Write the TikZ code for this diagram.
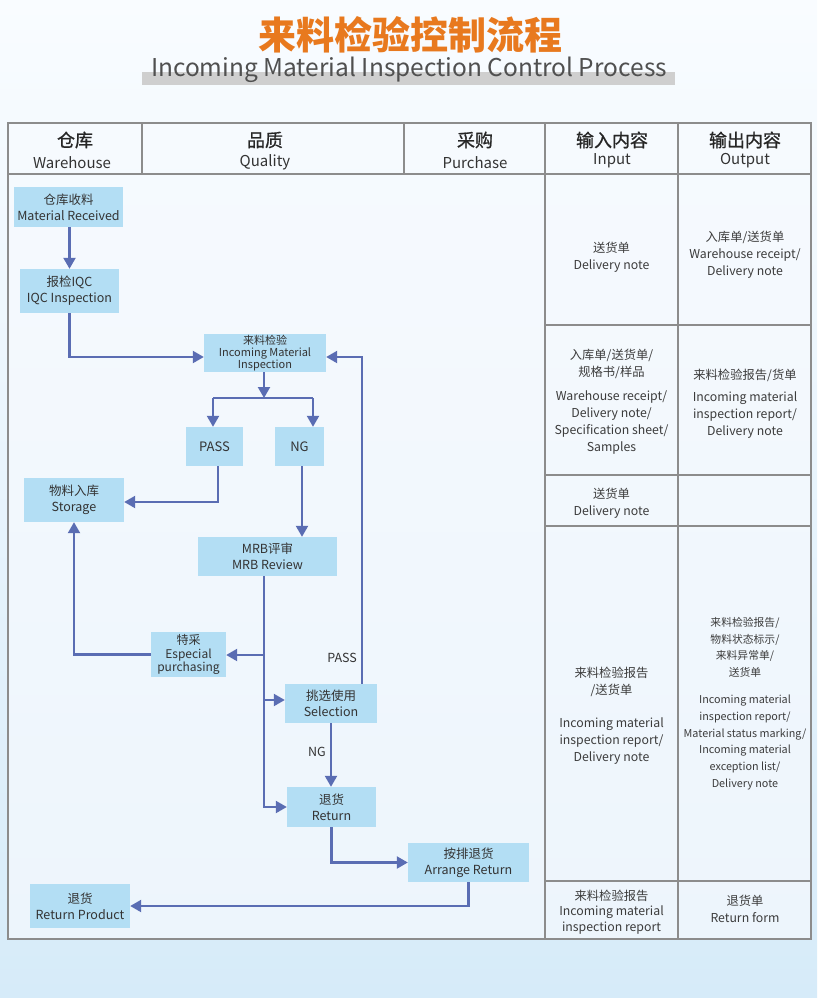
\documentclass[tikz,border=0pt]{standalone}
\usepackage{fontspec}
\setmainfont{Noto Sans CJK SC}
\newfontfamily\hdrfont{Noto Sans CJK SC}[FakeBold=0.9]
\usetikzlibrary{arrows.meta,calc}
\definecolor{boxblue}{HTML}{B3DEF4}
\definecolor{arrowc}{HTML}{5A6DB3}
\definecolor{titleor}{HTML}{E8791E}
\definecolor{subgray}{HTML}{505050}
\definecolor{bargray}{HTML}{CFCFCF}
\definecolor{txt}{HTML}{333333}
\definecolor{celltxt}{HTML}{3C3C3C}
\definecolor{gridc}{HTML}{8C8C8C}
\definecolor{bgtop}{HTML}{F9FCFF}
\definecolor{bgbot}{HTML}{D6EBF9}
\definecolor{tbltop}{HTML}{F6FAFE}
\definecolor{tblbot}{HTML}{EDF5FC}
\begin{document}
\begin{tikzpicture}[x=1pt,y=-1pt,
  fbox/.style={fill=boxblue, draw=none, inner sep=0pt, align=center, text=txt,
    font=\fontsize{12.5}{16}\selectfont},
  arr/.style={draw=arrowc, line width=2.2pt, -{Triangle[length=11pt,width=12pt]}},
  ln/.style={draw=arrowc, line width=2.2pt},
  cell/.style={align=center, text=celltxt, inner sep=0pt, font=\fontsize{12.3}{17}\selectfont},
  grid/.style={draw=gridc, line width=1.2pt},
  hcn/.style={text=black!85, inner sep=0pt, font=\hdrfont\fontsize{18}{20}\selectfont},
  hen/.style={text=txt, inner sep=0pt, font=\fontsize{15}{18}\selectfont},
  lbl/.style={text=txt, inner sep=0pt, font=\fontsize{12.5}{14}\selectfont}
]
% background
\useasboundingbox (0,0) rectangle (817,998);
\shade[top color=bgtop, bottom color=bgbot] (0,0) rectangle (817,998);
\shade[top color=tbltop, bottom color=tblbot] (8,123) rectangle (811,939);

% title
\fill[bargray] (142,72) rectangle (675,85);
\node[text=titleor, inner sep=0pt, font=\fontsize{38}{42}\selectfont\bfseries] (title) at (410,35) {来料检验控制流程};
\node[text=subgray, inner sep=0pt, font=\fontsize{24.5}{28}\selectfont] (subtitle) at (409,70) {Incoming Material Inspection Control Process};

% table grid
\draw[grid] (8,123) rectangle (811,939);
\draw[grid] (8,174) -- (811,174);
\draw[grid] (142,123) -- (142,174);
\draw[grid] (404,123) -- (404,174);
\draw[grid] (545,123) -- (545,939);
\draw[grid] (678,123) -- (678,939);
\draw[grid] (545,325) -- (811,325);
\draw[grid] (545,475) -- (811,475);
\draw[grid] (545,526) -- (811,526);
\draw[grid] (545,881) -- (811,881);

% header
\node[hcn] (h1a) at (75,140) {仓库};
\node[hen] (h1b) at (72,163) {Warehouse};
\node[hcn] (h2a) at (265,140) {品质};
\node[hen] (h2b) at (265,162) {Quality};
\node[hcn] (h3a) at (475,140) {采购};
\node[hen] (h3b) at (475,163) {Purchase};
\node[hcn] (h4a) at (612,140) {输入内容};
\node[hen] (h4b) at (612,161) {Input};
\node[hcn] (h5a) at (745,140) {输出内容};
\node[hen] (h5b) at (745,161) {Output};

% flow boxes
\node[fbox, minimum width=109pt, minimum height=40pt] (mr) at (68.5,207) {仓库收料\\Material Received};
\node[fbox, minimum width=99pt, minimum height=44pt] (iqc) at (69.5,291) {报检IQC\\IQC Inspection};
\node[fbox, minimum width=122pt, minimum height=38pt, font=\fontsize{11}{12.3}\selectfont] (imi) at (265,353) {来料检验\\Incoming Material\\Inspection};
\node[fbox, minimum width=57pt, minimum height=39pt, font=\fontsize{13}{15}\selectfont] (pass) at (214.5,446.5) {PASS};
\node[fbox, minimum width=49pt, minimum height=39pt, font=\fontsize{13}{15}\selectfont] (ng) at (299.5,446.5) {NG};
\node[fbox, minimum width=100pt, minimum height=44pt] (sto) at (74,500) {物料入库\\Storage};
\node[fbox, minimum width=139pt, minimum height=39pt] (mrb) at (267.5,556.5) {MRB评审\\MRB Review};
\node[fbox, minimum width=75pt, minimum height=45pt, font=\fontsize{12}{13.5}\selectfont] (esp) at (188.5,654.5) {特采\\Especial\\purchasing};
\node[fbox, minimum width=92pt, minimum height=39pt] (sel) at (331,703.5) {挑选使用\\Selection};
\node[fbox, minimum width=89pt, minimum height=40pt] (ret) at (331.5,807) {退货\\Return};
\node[fbox, minimum width=121pt, minimum height=39pt] (arrg) at (468.5,862.5) {按排退货\\Arrange Return};
\node[fbox, minimum width=100pt, minimum height=44pt] (rp) at (80,906) {退货\\Return Product};

% labels
\node[lbl, anchor=east] (lpass) at (357,658) {PASS};
\node[lbl, anchor=east] (lng) at (326,752) {NG};

% connectors
\coordinate (bar) at (264,398);
\coordinate (barL) at (213,398);
\coordinate (barR) at (313,398);
\draw[arr] (mr.south -| iqc.north) -- (iqc.north);
\draw[arr] (iqc.south) |- ([yshift=-4pt]imi.west);
\draw[arr] ([xshift=31pt]sel.north) |- ([yshift=-4pt]imi.east);
\draw[arr] (imi.south -| bar) -- (bar);
\draw[ln] (barL) -- (barR);
\draw[arr] (barL) -- (barL |- pass.north);
\draw[arr] (barR) -- (barR |- ng.north);
\draw[arr] ([xshift=3.5pt]pass.south) |- ([yshift=-2pt]sto.east);
\draw[arr] ([xshift=2.5pt]ng.south) -- ([xshift=2.5pt]ng.south |- mrb.north);
\coordinate (t1) at (264,655);
\coordinate (t2) at (264,700);
\draw[arr] ([xshift=-3.5pt]mrb.south) |- (ret.west);
\draw[arr] (t1) -- (esp.east |- t1);
\draw[arr] (t2) -- (sel.west |- t2);
\draw[arr] (esp.west) -| (sto.south);
\draw[arr] (sel.south) -- (sel.south |- ret.north);
\draw[arr] (ret.south) |- (arrg.west);
\draw[arr] (arrg.south) |- (rp.east);

% right columns
\node[cell] (c1i) at (611.5,257.5) {送货单\\Delivery note};
\node[cell] (c1o) at (745,255) {入库单/送货单\\Warehouse receipt/\\Delivery note};
\node[cell] (c2i) at (611.5,401.5) {入库单/送货单/\\规格书/样品\\[7pt]Warehouse receipt/\\Delivery note/\\Specification sheet/\\Samples};
\node[cell] (c2o) at (745,404) {来料检验报告/货单\\[5pt]Incoming material\\inspection report/\\Delivery note};
\node[cell] (c3i) at (611.5,503.5) {送货单\\Delivery note};
\node[cell] (c4i) at (611.5,716) {来料检验报告\\/送货单\\[16pt]Incoming material\\inspection report/\\Delivery note};
\node[cell, font=\fontsize{10.8}{16.8}\selectfont] (c4o) at (745,703.5) {来料检验报告/\\物料状态标示/\\来料异常单/\\送货单\\[10pt]Incoming material\\inspection report/\\Material status marking/\\Incoming material\\exception list/\\Delivery note};
\node[cell, font=\fontsize{12.3}{15.5}\selectfont] (c5i) at (611.5,912) {来料检验报告\\Incoming material\\inspection report};
\node[cell] (c5o) at (745,908.5) {退货单\\Return form};
\end{tikzpicture}
\end{document}
